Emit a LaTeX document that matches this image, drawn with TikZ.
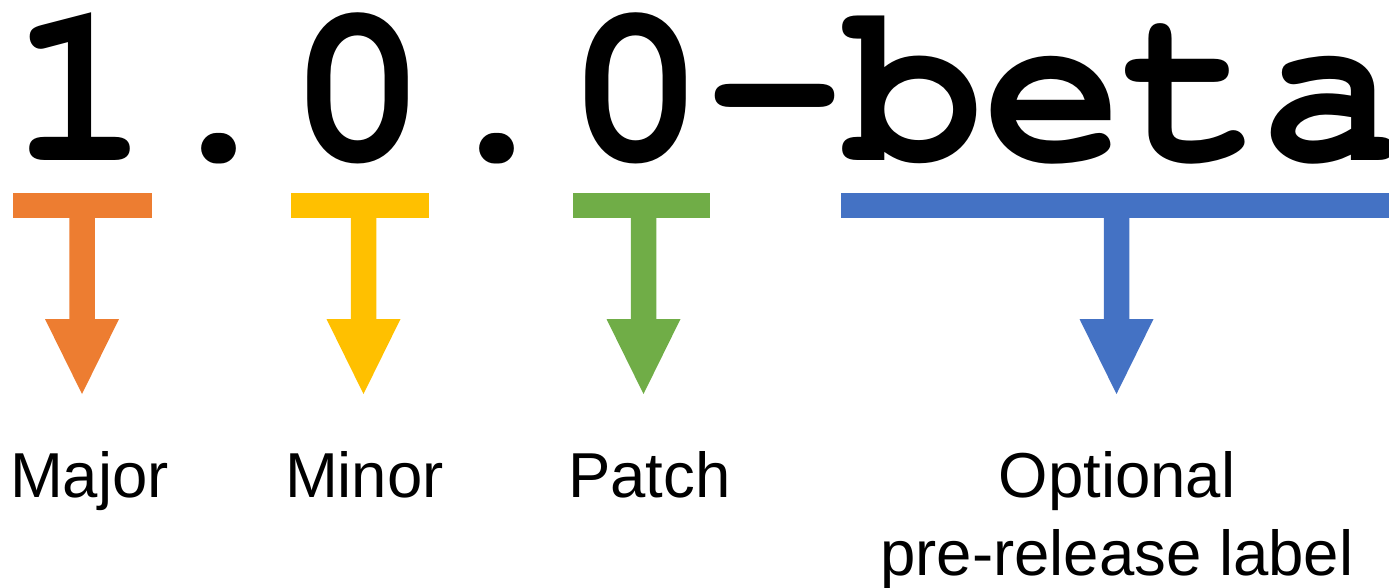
\documentclass[tikz,border=0pt]{standalone}
\usepackage{fontspec}
\setmainfont{Liberation Sans}
\newfontfamily\bigmono{texgyrecursor}[Extension=.otf, UprightFont=*-regular, BoldFont=*-bold]
\definecolor{semorange}{HTML}{ED7D31}
\definecolor{semyellow}{HTML}{FFC000}
\definecolor{semgreen}{HTML}{70AD47}
\definecolor{semblue}{HTML}{4472C4}
\newcommand\tarrowfill[2]{%
  \fill[#1] (#2) ++(-12.75,-1) -- ++(0,102) -- ++(-24.25,0) -- ++(37,75)
    -- ++(37,-75) -- ++(-24.25,0) -- ++(0,-102) -- cycle;}
\begin{document}
\begin{tikzpicture}[x=1pt,y=-1pt,
  bar/.style={fill=#1, draw=none, inner sep=0pt, outer sep=0pt, minimum height=25pt},
  lab/.style={font=\fontsize{63.5}{78}\selectfont, inner sep=0pt, outer sep=0pt, text=black},
  bigtext/.style={font=\bigmono\bfseries\fontsize{231.67}{240}\selectfont, inner sep=0pt, outer sep=0pt}]
\useasboundingbox (0,0) rectangle (1389,587);
\node[bigtext, anchor=base west] (ver) at (10.5,160) {1.0.0-beta};
% bars
\node[bar=semorange, minimum width=139pt] (majbar) at (82.5,205.5) {};
\node[bar=semyellow, minimum width=138pt] (minbar) at (360,205.5) {};
\node[bar=semgreen, minimum width=137pt] (patbar) at (641.5,205.5) {};
\node[bar=semblue, minimum width=548pt] (prebar) at (1115,205.5) {};
% stem tops
\coordinate (majtop) at (82,218);
\coordinate (mintop) at (363.5,218);
\coordinate (pattop) at (643.5,218);
\coordinate (pretop) at (1116.5,218);
\tarrowfill{semorange}{majtop}
\tarrowfill{semyellow}{mintop}
\tarrowfill{semgreen}{pattop}
\tarrowfill{semblue}{pretop}
% labels
\node[lab, anchor=base west] (major) at (10,497) {Major};
\node[lab, anchor=base west] (minor) at (285,497) {Minor};
\node[lab, anchor=base west] (patch) at (568,497) {Patch};
\node[lab, anchor=base, align=center] (optional) at (1117,575) {Optional\\pre-release label};
\end{tikzpicture}
\end{document}
